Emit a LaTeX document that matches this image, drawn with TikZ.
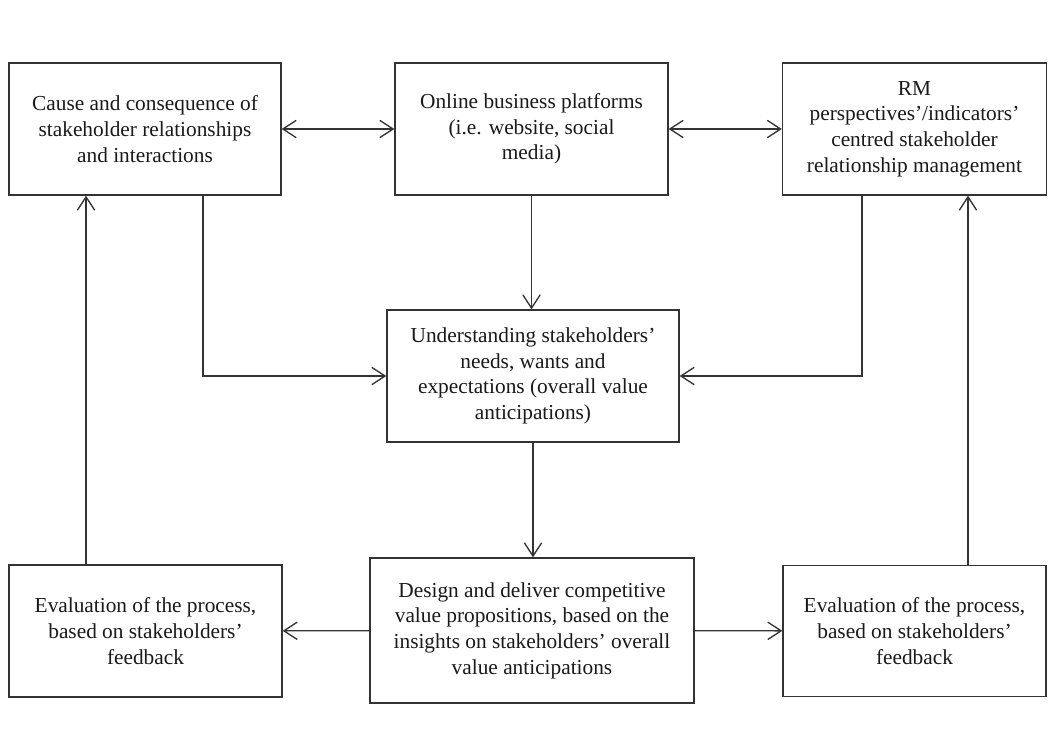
\documentclass[tikz,border=0pt]{standalone}
\usepackage{fontspec}
\setmainfont{Liberation Serif}
\usetikzlibrary{arrows.meta}

\tikzset{
  box/.style={draw=black!80, line width=1pt, align=center, inner sep=2pt,
    font=\fontsize{16}{19.2}\selectfont, text=black!90},
  arr/.style={draw=black!80, line width=1pt, -{Straight Barb[length=10pt,width=13pt]}},
  darr/.style={arr, {Straight Barb[length=10pt,width=13pt]}-{Straight Barb[length=10pt,width=13pt]}}
}

\begin{document}
\begin{tikzpicture}[x=0.75pt, y=-0.75pt]
        \useasboundingbox (0,0) rectangle (1048,747);
        % top row
        \node[box, minimum width=204pt, minimum height=99pt] (cause) at (145,129)
            {Cause and consequence of\\stakeholder relationships\\and interactions};
        \node[box, minimum width=204.75pt, minimum height=99pt] (online) at (531.5,129)
            {Online business platforms\\(i.e. website, social\\media)};
        \node[box, minimum width=198pt, minimum height=99pt] (rm) at (914.5,129)
            {RM\\perspectives'/indicators'\\centred stakeholder\\relationship management};
        % middle
        \node[box, minimum width=219pt, minimum height=99pt] (needs) at (533,376)
            {Understanding stakeholders'\\needs, wants and\\expectations (overall value\\anticipations)};
        % bottom row
        \node[box, minimum width=204.75pt, minimum height=99pt] (evalL) at (145.5,631)
            {Evaluation of the process,\\based on stakeholders'\\feedback};
        \node[box, minimum width=243pt, minimum height=108.75pt] (design) at (532,630.5)
            {Design and deliver competitive\\value propositions, based on the\\insights on stakeholders' overall\\value anticipations};
        \node[box, minimum width=197.25pt, minimum height=98.25pt] (evalR) at (914.5,631)
            {Evaluation of the process,\\based on stakeholders'\\feedback};

        \draw[darr] (cause) -- (online);
        \draw[darr] (online) -- (rm);
        \draw[arr] (online) -- (online |- needs.north);
        \draw[arr] ([xshift=43.5pt]cause.south) |- (needs.west);
        \draw[arr] ([xshift=-39.4pt]rm.south) |- (needs.east);
        \draw[arr] (needs.south) -- (needs.south |- design.north);
        \draw[arr] (design) -- (evalL);
        \draw[arr] (design) -- (evalR);
        \draw[arr] ([xshift=-44.6pt]evalL.north) -- ([xshift=-44.6pt]evalL.north |- cause.south);
        \draw[arr] ([xshift=40.1pt]evalR.north) -- ([xshift=40.1pt]evalR.north |- rm.south);
    \end{tikzpicture}
\end{document}
